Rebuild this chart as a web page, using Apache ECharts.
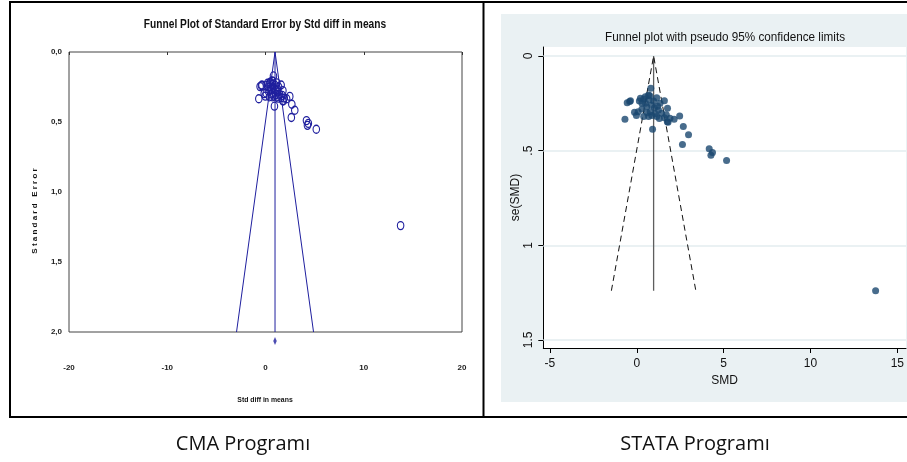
<!DOCTYPE html>
<html>
<head>
<meta charset="utf-8">
<script src="https://cdn.jsdelivr.net/npm/echarts@6/dist/echarts.min.js"></script>
<style>
html,body{margin:0;padding:0;background:#fff;}
#c{width:907px;height:462px;}
</style>
</head>
<body>
<div id="c"></div>
<script>
// ---- data ----
const smd = [0.81,-0.55,-0.41,-0.68,0.15,0.40,0.68,0.97,1.34,1.59,1.77,-0.13,-0.02,1.76,2.15,2.47,2.68,2.98,2.63,0.91,4.17,4.36,4.27,5.17,13.75,0.49,0.72,1.15,0.08,0.30,0.58,0.77,1.02,1.25,1.43,1.91,0.40,0.68,0.87,1.15,1.59,-0.36,0.21,0.60,1.05,1.30,1.70,0.50,1.20,0.85,0.30,1.80,0.75];
const se  = [0.171,0.247,0.241,0.334,0.238,0.227,0.206,0.238,0.250,0.236,0.276,0.297,0.315,0.347,0.334,0.317,0.373,0.416,0.468,0.387,0.490,0.510,0.524,0.552,1.240,0.215,0.232,0.220,0.294,0.280,0.268,0.294,0.273,0.285,0.303,0.329,0.320,0.320,0.315,0.320,0.326,0.236,0.223,0.300,0.305,0.330,0.310,0.250,0.265,0.260,0.250,0.350,0.210];
const pooled = 0.97;
const zCrit = 1.96;
const cmaSeMax = 2.0;
const stataSeMax = 1.24;
const cmaXTicks = [-20,-10,0,10,20];
const cmaYTicks = [0,0.5,1,1.5,2];
const cmaYLabels = ['0,0','0,5','1,0','1,5','2,0'];
const stataXTicks = [-5,0,5,10,15];
const stataYTicks = [0,0.5,1,1.5];
const stataYLabels = ['0','.5','1','1.5'];
const diamondSe = 2.064;

const pts = smd.map((v,i)=>[v,se[i]]);
const navy = '#1f1f9e';
const arial = '"Liberation Sans", Arial, sans-serif';

const chart = echarts.init(document.getElementById('c'), null, {renderer:'canvas'});
chart.setOption({
  animation:false,
  backgroundColor:'#fff',
  grid:[
    {left:69, top:52, width:393, height:280, show:true, borderColor:'#444', borderWidth:1, backgroundColor:'#fff'},
    {left:543.3, top:47, width:368.5, height:301, show:true, borderWidth:0, backgroundColor:'#fff'}
  ],
  xAxis:[
    {gridIndex:0, type:'value', min:-20, max:20, interval:10,
     axisLine:{show:false}, splitLine:{show:false},
     axisTick:{show:true, inside:false, length:3, lineStyle:{color:'#333'}},
     axisLabel:{margin:32, fontSize:8, fontWeight:'bold', fontFamily:arial, color:'#222',
       formatter:v=>cmaXTicks.includes(v)?String(v):''}},
    {gridIndex:1, type:'value', min:-5.38, max:15.5,
     axisLine:{show:true, onZero:false, lineStyle:{color:'#000', width:1}},
     splitLine:{show:false},
     axisTick:{show:true, length:5, customValues:stataXTicks, lineStyle:{color:'#000'}},
     axisLabel:{customValues:stataXTicks, margin:10, fontSize:12, fontFamily:arial, color:'#111'},
     name:'SMD', nameLocation:'middle', nameGap:22, nameTextStyle:{fontSize:12, fontFamily:arial, color:'#111'}}
  ],
  yAxis:[
    {gridIndex:0, type:'value', inverse:true, min:0, max:2, interval:0.5,
     axisLine:{show:false}, splitLine:{show:false}, axisTick:{show:false},
     axisLabel:{margin:7, fontSize:8, fontWeight:'bold', fontFamily:arial, color:'#222',
       formatter:v=>{const i=cmaYTicks.indexOf(v);return i>=0?cmaYLabels[i]:'';}}},
    {gridIndex:1, type:'value', inverse:true, min:-0.0475, max:1.5425,
     axisLine:{show:true, onZero:false, lineStyle:{color:'#000', width:1}},
     splitLine:{show:false},
     axisTick:{show:true, length:5, customValues:stataYTicks, lineStyle:{color:'#000'}},
     axisLabel:{customValues:stataYTicks, rotate:90, margin:9, fontSize:12, fontFamily:arial, color:'#111',
       formatter:v=>{const i=stataYTicks.indexOf(v);return i>=0?stataYLabels[i]:'';}},
     name:'se(SMD)', nameLocation:'middle', nameGap:22, nameRotate:90,
     nameTextStyle:{fontSize:12, fontFamily:arial, color:'#111'}}
  ],
  series:[
    // CMA
    {type:'line', xAxisIndex:0, yAxisIndex:0, symbol:'none', silent:true, z:5,
     data:[[pooled - zCrit*cmaSeMax, cmaSeMax],[pooled,0],[pooled + zCrit*cmaSeMax, cmaSeMax]],
     lineStyle:{color:navy, width:1}},
    {type:'line', xAxisIndex:0, yAxisIndex:0, symbol:'none', silent:true, z:5,
     data:[[pooled,0],[pooled,cmaSeMax]], lineStyle:{color:navy, width:1}},
    {type:'scatter', xAxisIndex:0, yAxisIndex:0, data:pts, symbol:'circle', symbolSize:[6.5,8], z:6,
     itemStyle:{color:'transparent', borderColor:navy, borderWidth:1.2, opacity:1}},
    {type:'scatter', xAxisIndex:0, yAxisIndex:0, data:[[pooled, diamondSe]], clip:false, z:6,
     symbol:'diamond', symbolSize:[3.5,8], itemStyle:{color:navy}},
    // STATA
    {type:'line', xAxisIndex:1, yAxisIndex:1, symbol:'none', silent:true,
     data:[[pooled,0],[pooled,stataSeMax]], lineStyle:{color:'#5e5e5e', width:1.3}, z:5,
     markLine:{silent:true, symbol:'none', label:{show:false}, animation:false,
       lineStyle:{color:'#e3ecef', width:1.6, type:'solid'},
       data:stataYTicks.map(v=>({yAxis:v})), z:2}},
    {type:'line', xAxisIndex:1, yAxisIndex:1, symbol:'none', silent:true, z:5,
     data:[[pooled - zCrit*stataSeMax, stataSeMax],[pooled,0],[pooled + zCrit*stataSeMax, stataSeMax]],
     lineStyle:{color:'#111', width:1, type:[6,4]}},
    {type:'scatter', xAxisIndex:1, yAxisIndex:1, data:pts, symbol:'circle', symbolSize:7, z:6,
     itemStyle:{color:'#1a476f'}}
  ],
  graphic:[
    {type:'rect', z:-10, shape:{x:501, y:14, width:420, height:388}, style:{fill:'#eaf1f3'}},
    {type:'rect', z:100, shape:{x:10, y:1, width:910, height:2}, style:{fill:'#000'}},
    {type:'rect', z:100, shape:{x:10, y:416, width:910, height:2}, style:{fill:'#000'}},
    {type:'rect', z:100, shape:{x:9, y:1, width:2, height:417}, style:{fill:'#000'}},
    {type:'rect', z:100, shape:{x:482.5, y:1, width:2, height:417}, style:{fill:'#000'}},
    {type:'text', z:100, x:265, y:25, scaleX:0.815, style:{text:'Funnel Plot of Standard Error by Std diff in means',
      fontSize:12.5, fontWeight:'bold', fontFamily:arial, fill:'#111', align:'center', verticalAlign:'middle'}},
    {type:'text', z:100, x:265, y:400, scaleX:0.86, style:{text:'Std diff in means',
      fontSize:8, fontWeight:'bold', fontFamily:arial, fill:'#111', align:'center', verticalAlign:'middle'}},
    {type:'text', z:100, x:35, y:211, rotation:Math.PI/2, style:{text:'S t a n d a r d   E r r o r',
      fontSize:8, fontWeight:'bold', fontFamily:arial, fill:'#111', align:'center', verticalAlign:'middle'}},
    {type:'text', z:100, x:725, y:37, scaleX:0.9, style:{text:'Funnel plot with pseudo 95% confidence limits',
      fontSize:13, fontFamily:arial, fill:'#111', align:'center', verticalAlign:'middle'}},
    {type:'text', z:100, x:243, y:444, style:{text:'CMA Programı',
      fontSize:20, fontFamily:'"Open Sans", "Noto Sans", sans-serif', fill:'#111', align:'center', verticalAlign:'middle'}},
    {type:'text', z:100, x:695, y:444, style:{text:'STATA Programı',
      fontSize:20, fontFamily:'"Open Sans", "Noto Sans", sans-serif', fill:'#111', align:'center', verticalAlign:'middle'}}
  ]
});
</script>
</body>
</html>
